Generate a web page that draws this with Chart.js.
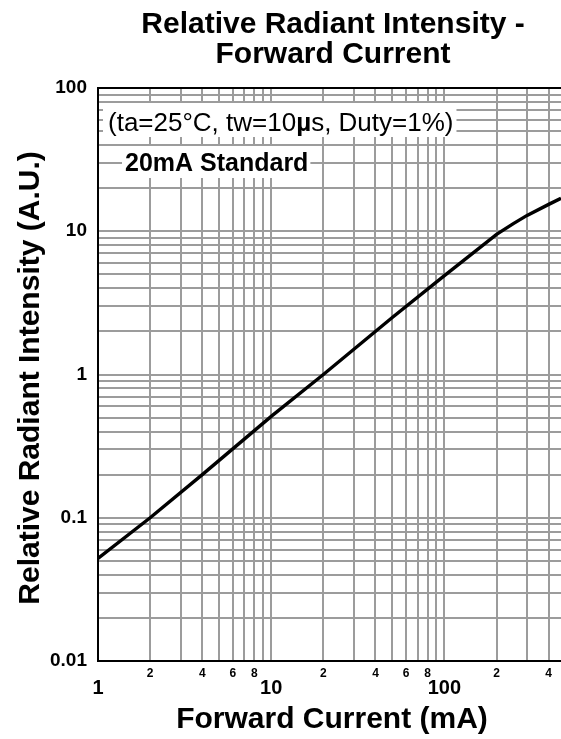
<!DOCTYPE html>
<html>
<head>
<meta charset="utf-8">
<script src="https://cdn.jsdelivr.net/npm/chart.js@4/dist/chart.umd.min.js"></script>
<style>
  html, body { margin: 0; padding: 0; background: #fff; }
  #wrap { width: 561px; height: 739px; }
  canvas { display: block; }
</style>
</head>
<body>
<div id="wrap"><canvas id="chart" width="561" height="739"></canvas></div>
<script>
// Forward current (mA) and relative radiant intensity (normalised to 1 at 20 mA)
const forwardCurrentMA = [1, 2, 4, 10, 20, 50, 100, 200, 250, 300, 400, 471];
const relativeIntensity = [0.052, 0.10, 0.20, 0.51, 1.0, 2.5, 4.9, 9.5, 11.3, 12.9, 15.4, 17.0];

// Log grid positions
const xTickValues = [1, 2, 3, 4, 5, 6, 7, 8, 9, 10, 20, 30, 40, 50, 60, 70, 80, 90, 100, 200, 300, 400];
const yTickValues = [0.01, 0.02, 0.03, 0.04, 0.05, 0.06, 0.07, 0.08, 0.09,
                     0.1, 0.2, 0.3, 0.4, 0.5, 0.6, 0.7, 0.8, 0.9,
                     1, 2, 3, 4, 5, 6, 7, 8, 9,
                     10, 20, 30, 40, 50, 60, 70, 80, 90, 100];

// Tick labels
const xMajorLabels = ['1', '10', '100'];
const xMinorDigits = ['2', '4', '6', '8'];
const yTickLabels = ['0.01', '0.1', '1', '10', '100'];

// Texts
const titleLines = ['Relative Radiant Intensity -', 'Forward Current'];
const xAxisTitle = 'Forward Current (mA)';
const yAxisTitle = 'Relative Radiant Intensity (A.U.)';
const conditionParts = ['(ta=25°C, tw=10', 'µ', 's, Duty=1%)'];
const standardNote = '20mA Standard';

const FAMILY = '"Liberation Sans", Arial, Helvetica, sans-serif';
const GRID = '#9c9c9c';

function leadingDigit(v) {
  const p = Math.pow(10, Math.floor(Math.log10(v) + 1e-9));
  return String(Math.round(v / p));
}

const textPlugin = {
  id: 'chartText',
  afterDraw(chart) {
    const ctx = chart.ctx;
    const a = chart.chartArea;
    ctx.save();
    ctx.fillStyle = '#000';
    ctx.textBaseline = 'alphabetic';

    // Heading
    ctx.textAlign = 'center';
    ctx.font = 'bold 30px ' + FAMILY;
    ctx.fillText(titleLines[0], 333, 33);
    ctx.fillText(titleLines[1], 333, 63);

    // Axis titles
    ctx.fillText(xAxisTitle, 332, 728);
    ctx.save();
    ctx.translate(39, 378);
    ctx.rotate(-Math.PI / 2);
    ctx.fillText(yAxisTitle, 0, 0);
    ctx.restore();

    // Test-condition note on white backing (micro sign in bold)
    ctx.textAlign = 'left';
    const fonts = ['26px ' + FAMILY, 'bold 26px ' + FAMILY, '26px ' + FAMILY];
    const widths = conditionParts.map((t, i) => { ctx.font = fonts[i]; return ctx.measureText(t).width; });
    const total = widths.reduce((s, w) => s + w, 0);
    let x = a.left + 10;
    ctx.fillStyle = '#fff';
    ctx.fillRect(x - 5, 103, total + 8, 34);
    ctx.fillStyle = '#000';
    conditionParts.forEach((t, i) => {
      ctx.font = fonts[i];
      ctx.fillText(t, x, 131);
      x += widths[i];
    });

    // Reference-current note
    ctx.font = 'bold 25px ' + FAMILY;
    x = a.left + 27;
    const w = ctx.measureText(standardNote).width;
    ctx.fillStyle = '#fff';
    ctx.fillRect(x - 3, 146, w + 5, 32);
    ctx.fillStyle = '#000';
    ctx.fillText(standardNote, x, 171);
    ctx.restore();
  }
};

new Chart(document.getElementById('chart'), {
  type: 'line',
  data: {
    labels: forwardCurrentMA,
    datasets: [{
      data: forwardCurrentMA.map((c, i) => ({ x: c, y: relativeIntensity[i] })),
      borderColor: '#000',
      borderWidth: 3.4,
      pointRadius: 0,
      tension: 0,
      fill: false
    }]
  },
  options: {
    responsive: false,
    animation: false,
    events: [],
    layout: { padding: { top: 88, left: 0, right: 0, bottom: 0 } },
    plugins: { legend: { display: false }, title: { display: false }, tooltip: { enabled: false } },
    scales: {
      x: {
        type: 'logarithmic',
        min: 1,
        max: 471,
        afterBuildTicks: (scale) => { scale.ticks = xTickValues.map(v => ({ value: v })); },
        afterFit: (scale) => { scale.height = 78; },
        border: { display: true, color: '#000', width: 2 },
        grid: {
          drawTicks: false,
          color: (c) => (c.tick && c.tick.value === 1 ? '#000' : GRID),
          lineWidth: 2
        },
        ticks: {
          autoSkip: false,
          maxRotation: 0,
          minRotation: 0,
          padding: 5,
          color: '#000',
          font: (c) => (c.tick && xMajorLabels.includes(String(c.tick.value))
            ? { family: FAMILY, size: 20, weight: 'bold', lineHeight: 0.74 }
            : { family: FAMILY, size: 12, weight: 'bold', lineHeight: 1.2 }),
          callback: (value) => {
            const s = String(value);
            if (xMajorLabels.includes(s)) return ['', s];
            const d = leadingDigit(value);
            return xMinorDigits.includes(d) ? d : '';
          }
        }
      },
      y: {
        type: 'logarithmic',
        min: 0.01,
        max: 100,
        afterBuildTicks: (scale) => { scale.ticks = yTickValues.map(v => ({ value: v })); },
        afterFit: (scale) => { scale.width = 98; },
        border: { display: true, color: '#000', width: 2 },
        grid: {
          drawTicks: false,
          color: (c) => (c.tick && (c.tick.value === 100 || c.tick.value === 0.01) ? '#000' : GRID),
          lineWidth: 2
        },
        ticks: {
          autoSkip: false,
          padding: 11,
          color: '#000',
          font: { family: FAMILY, size: 19, weight: 'bold' },
          callback: (value) => {
            const s = String(value);
            return yTickLabels.includes(s) ? s : '';
          }
        }
      }
    }
  },
  plugins: [textPlugin]
});
</script>
</body>
</html>
